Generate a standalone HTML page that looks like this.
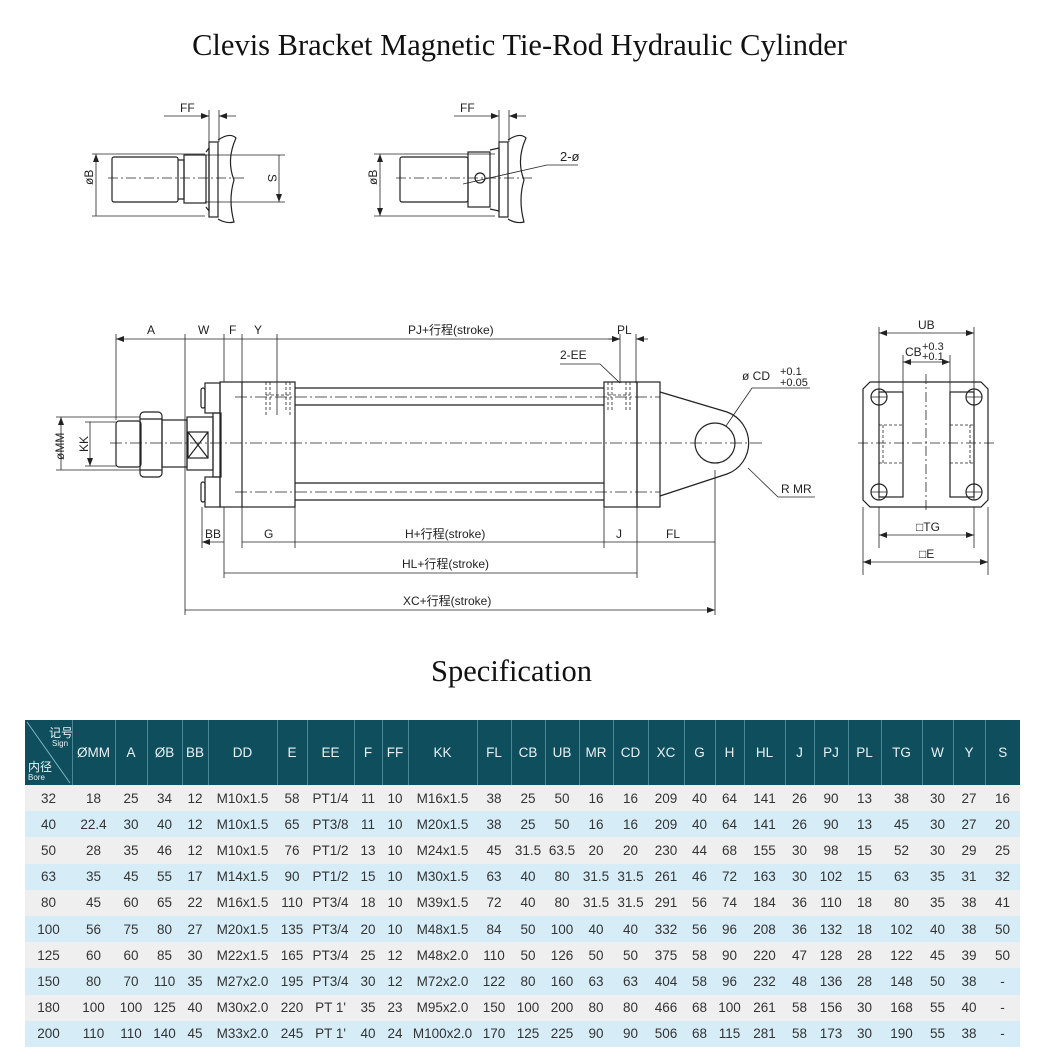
<!DOCTYPE html>
<html><head><meta charset="utf-8">
<style>
html,body{margin:0;padding:0;background:#fff;}
body{width:1039px;height:1060px;position:relative;overflow:hidden;font-family:"Liberation Sans","Noto Sans CJK SC",sans-serif;}
.t{position:absolute;left:0;width:1039px;text-align:center;font-family:"Liberation Serif","Noto Serif CJK SC",serif;color:#111;}
table{position:absolute;left:25px;top:720px;border-collapse:collapse;table-layout:fixed;width:995px;font-size:13.5px;color:#333;}
td,th{padding:0;text-align:center;white-space:nowrap;overflow:hidden;}
th{background:#0f4e5c;color:#e8f2f5;font-weight:normal;height:65px;border-left:1px solid #4a8795;}
td{height:26.2px;}
tr.o td{background:#efefef;}
tr.e td{background:#d6edf8;}
svg text{font-family:"Liberation Sans","Noto Sans CJK SC",sans-serif;fill:#222;}
</style></head><body>
<div class="t" style="top:28px;font-size:30.5px;">Clevis Bracket Magnetic Tie-Rod Hydraulic Cylinder</div>
<div class="t" style="top:654px;font-size:30.5px;left:-8px;">Specification</div>

<svg width="1039" height="700" style="position:absolute;left:0;top:0" xmlns="http://www.w3.org/2000/svg">
<defs>
<marker id="a" markerWidth="8" markerHeight="6" refX="8" refY="3" orient="auto-start-reverse" markerUnits="userSpaceOnUse"><path d="M0,0 L8,3 L0,6 z" fill="#222"/></marker>
</defs>
<g stroke="#222" fill="none" stroke-width="1.2">
<rect x="112" y="157" width="66" height="45" rx="2"/>
<path d="M178 160 L184 160 L184 199 L178 199"/>
<rect x="184" y="155" width="22" height="48"/>
<path d="M206 152 L209 148 L209 211 L206 207"/>
<rect x="209" y="142" width="9" height="75"/>
<path d="M218 140 Q230 132 236 138 Q226 160 234 180 Q228 200 234 222 Q226 224 218 219"/>
<rect x="400" y="157" width="68" height="45" rx="2"/>
<rect x="468" y="152" width="22" height="55"/>
<path d="M490 150 L499 148 L499 211 L490 209"/>
<rect x="499" y="142" width="9" height="75"/>
<path d="M508 140 Q520 132 526 138 Q516 160 524 180 Q518 200 524 222 Q516 224 508 219"/>
<circle cx="480" cy="178" r="5"/>
</g>
<g stroke="#222" fill="none" stroke-width="0.8">
<path d="M108 178 H245 M396 178 H535" stroke-dasharray="10 3 2 3"/>
<path d="M92 154 H205 M92 216 H205 M205 155 H285 M205 202 H285"/>
<path d="M96 154 V216 M279 155 V202" marker-start="url(#a)" marker-end="url(#a)"/>
<path d="M209 110 V145 M219 110 V142"/>
<path d="M164 116 H209" marker-end="url(#a)"/><path d="M236 116 H219" marker-end="url(#a)"/>
<path d="M374 154 H495 M374 216 H495"/>
<path d="M380 154 V216" marker-start="url(#a)" marker-end="url(#a)"/>
<path d="M499 110 V145 M509 110 V142"/>
<path d="M454 116 H499" marker-end="url(#a)"/><path d="M526 116 H509" marker-end="url(#a)"/>
<path d="M463 184 L547 165 H578"/>
</g>
<g font-size="12">
<text x="180" y="112">FF</text><text x="460" y="112">FF</text>
<text x="560" y="161" font-size="13">2-ø</text>
<text transform="translate(93,185) rotate(-90)">øB</text>
<text transform="translate(377,185) rotate(-90)">øB</text>
<text transform="translate(268,174) rotate(90)">S</text>
</g>

<g stroke="#222" fill="none" stroke-width="1.2">
<rect x="116" y="421" width="25" height="46" rx="3"/>
<rect x="140" y="412" width="22" height="65" rx="4"/>
<path d="M140 419 H162 M140 470 H162"/>
<rect x="162" y="420" width="25" height="47"/>
<rect x="187" y="417" width="26" height="53"/>
<rect x="188" y="432" width="20" height="26"/>
<path d="M188 432 L208 458 M208 432 L188 458"/>
<rect x="213" y="413" width="8" height="64"/>
<rect x="205" y="383" width="15" height="30"/><rect x="201" y="388" width="4" height="20" rx="2"/>
<rect x="205" y="477" width="15" height="30"/><rect x="201" y="482" width="4" height="20" rx="2"/>
<rect x="220" y="382" width="75" height="125"/>
<path d="M242 382 V507"/>
<path d="M295 388 H604 M295 405 H604 M295 483 H604 M295 500 H604"/>
<rect x="604" y="382" width="33" height="125"/>
<rect x="637" y="382" width="23" height="125"/>
<path d="M660 392 L727 412 A33 33 0 0 1 727 474 L660 496"/>
<circle cx="715" cy="443" r="20"/>
<path d="M870 382 H981 L988 389 V500 L981 507 H870 L863 500 V389 Z"/>
<rect x="879" y="392" width="24" height="105"/>
<rect x="950" y="392" width="24" height="105"/>
<circle cx="879" cy="397" r="8"/><circle cx="974" cy="397" r="8"/>
<circle cx="879" cy="492" r="8"/><circle cx="974" cy="492" r="8"/>
</g>
<g stroke="#222" fill="none" stroke-width="0.8">
<path d="M871 397 H887 M879 389 V405 M966 397 H982 M974 389 V405 M871 492 H887 M879 484 V500 M966 492 H982 M974 484 V500"/>
<path d="M879 425 H903 M879 463 H903 M950 425 H974 M950 463 H974 M883 425 V463 M970 425 V463" stroke-dasharray="3 2"/>
<path d="M858 443 H995 M926 374 V512" stroke-dasharray="10 3 2 3"/>
<path d="M879 327 V392 M974 327 V392 M903 355 V392 M950 355 V392 M879 507 V548 M974 507 V548 M863 507 V575 M988 507 V575"/>
<path d="M879 333 H974" marker-start="url(#a)" marker-end="url(#a)"/>
<path d="M903 362 H950" marker-start="url(#a)" marker-end="url(#a)"/>
<path d="M879 535 H974" marker-start="url(#a)" marker-end="url(#a)"/>
<path d="M863 562 H988" marker-start="url(#a)" marker-end="url(#a)"/>

<path d="M266 382 V415 M290 382 V415 M270 382 V410 M286 382 V410 M266 395 H290 M608 382 V412 M630 382 V412 M612 382 V410 M626 382 V410 M608 395 H630" stroke-dasharray="3 2"/>
<path d="M110 443 H765 M235 397 H660 M235 492 H660" stroke-dasharray="12 3 2 3"/>
<path d="M116 334 V420 M185 334 V615 M224 334 V382 M242 334 V382 M277 334 V415 M620 334 V383 M636 334 V383"/>
<path d="M202 507 V548 M224 507 V578 M242 507 V548 M295 507 V548 M604 507 V548 M637 507 V578 M715 470 V615"/>
<path d="M56 417 H140 M56 470 H140 M85 422 H116 M85 466 H116"/>
<path d="M116 339 H185 M185 339 H224 M224 339 H242 M242 339 H277 M277 339 H620" marker-start="url(#a)" marker-end="url(#a)"/>
<path d="M608 339 H620" marker-end="url(#a)"/><path d="M648 339 H636" marker-end="url(#a)"/>
<path d="M61 417 V470 M90 422 V466" marker-start="url(#a)" marker-end="url(#a)"/>
<path d="M202 542 H224 M242 542 H295 M295 542 H604 M604 542 H637 M637 542 H715 M224 573 H637 M185 610 H715" marker-start="url(#a)" marker-end="url(#a)"/>
<path d="M560 364 H600 L620 383"/>
<path d="M726 426 L752 388 H810"/>
<path d="M748 468 L778 497 H815"/>
</g>
<g font-size="12">
<text x="147" y="334">A</text><text x="198" y="334">W</text><text x="229" y="334">F</text><text x="254" y="334">Y</text>
<text x="408" y="334">PJ+行程(stroke)</text><text x="617" y="334">PL</text>
<text x="560" y="359">2-EE</text>
<text x="742" y="380">ø CD</text><text x="780" y="375" font-size="11">+0.1</text><text x="780" y="386" font-size="11">+0.05</text>
<text x="781" y="493">R MR</text>
<text x="205" y="538">BB</text><text x="264" y="538">G</text><text x="405" y="538">H+行程(stroke)</text>
<text x="616" y="538">J</text><text x="666" y="538">FL</text>
<text x="402" y="568">HL+行程(stroke)</text><text x="403" y="605">XC+行程(stroke)</text>
<text transform="translate(64,460) rotate(-90)">øMM</text>
<text transform="translate(88,452) rotate(-90)">KK</text>
<text x="918" y="329">UB</text>
<text x="905" y="356">CB</text><text x="922" y="350" font-size="11">+0.3</text><text x="922" y="360" font-size="11">+0.1</text>
<text x="916" y="531">□TG</text><text x="919" y="558">□E</text>
</g>
</svg>

<table>
<colgroup>
<col style="width:47px"><col style="width:43px"><col style="width:32px"><col style="width:35px"><col style="width:26px"><col style="width:69px"><col style="width:30px"><col style="width:47px"><col style="width:28px"><col style="width:26px"><col style="width:69px"><col style="width:34px"><col style="width:34px"><col style="width:34px"><col style="width:34px"><col style="width:35px"><col style="width:36px"><col style="width:31px"><col style="width:29px"><col style="width:41px"><col style="width:29px"><col style="width:34px"><col style="width:33px"><col style="width:41px"><col style="width:31px"><col style="width:32px"><col style="width:35px">
</colgroup>
<tr><th style="border-left:none;position:relative"><svg width="47" height="65" style="position:absolute;left:0;top:0"><line x1="2" y1="2" x2="45" y2="63" stroke="#7fb3c0" stroke-width="1"/><text x="24" y="17" font-size="12" style="fill:#e8f2f5">记号</text><text x="27" y="26" font-size="8" style="fill:#e8f2f5">Sign</text><text x="3" y="51" font-size="12" style="fill:#e8f2f5">内径</text><text x="3" y="60" font-size="8" style="fill:#e8f2f5">Bore</text></svg></th><th>ØMM</th><th>A</th><th>ØB</th><th>BB</th><th>DD</th><th>E</th><th>EE</th><th>F</th><th>FF</th><th>KK</th><th>FL</th><th>CB</th><th>UB</th><th>MR</th><th>CD</th><th>XC</th><th>G</th><th>H</th><th>HL</th><th>J</th><th>PJ</th><th>PL</th><th>TG</th><th>W</th><th>Y</th><th>S</th></tr>
<tr class="o"><td>32</td><td>18</td><td>25</td><td>34</td><td>12</td><td>M10x1.5</td><td>58</td><td>PT1/4</td><td>11</td><td>10</td><td>M16x1.5</td><td>38</td><td>25</td><td>50</td><td>16</td><td>16</td><td>209</td><td>40</td><td>64</td><td>141</td><td>26</td><td>90</td><td>13</td><td>38</td><td>30</td><td>27</td><td>16</td></tr>
<tr class="e"><td>40</td><td>22.4</td><td>30</td><td>40</td><td>12</td><td>M10x1.5</td><td>65</td><td>PT3/8</td><td>11</td><td>10</td><td>M20x1.5</td><td>38</td><td>25</td><td>50</td><td>16</td><td>16</td><td>209</td><td>40</td><td>64</td><td>141</td><td>26</td><td>90</td><td>13</td><td>45</td><td>30</td><td>27</td><td>20</td></tr>
<tr class="o"><td>50</td><td>28</td><td>35</td><td>46</td><td>12</td><td>M10x1.5</td><td>76</td><td>PT1/2</td><td>13</td><td>10</td><td>M24x1.5</td><td>45</td><td>31.5</td><td>63.5</td><td>20</td><td>20</td><td>230</td><td>44</td><td>68</td><td>155</td><td>30</td><td>98</td><td>15</td><td>52</td><td>30</td><td>29</td><td>25</td></tr>
<tr class="e"><td>63</td><td>35</td><td>45</td><td>55</td><td>17</td><td>M14x1.5</td><td>90</td><td>PT1/2</td><td>15</td><td>10</td><td>M30x1.5</td><td>63</td><td>40</td><td>80</td><td>31.5</td><td>31.5</td><td>261</td><td>46</td><td>72</td><td>163</td><td>30</td><td>102</td><td>15</td><td>63</td><td>35</td><td>31</td><td>32</td></tr>
<tr class="o"><td>80</td><td>45</td><td>60</td><td>65</td><td>22</td><td>M16x1.5</td><td>110</td><td>PT3/4</td><td>18</td><td>10</td><td>M39x1.5</td><td>72</td><td>40</td><td>80</td><td>31.5</td><td>31.5</td><td>291</td><td>56</td><td>74</td><td>184</td><td>36</td><td>110</td><td>18</td><td>80</td><td>35</td><td>38</td><td>41</td></tr>
<tr class="e"><td>100</td><td>56</td><td>75</td><td>80</td><td>27</td><td>M20x1.5</td><td>135</td><td>PT3/4</td><td>20</td><td>10</td><td>M48x1.5</td><td>84</td><td>50</td><td>100</td><td>40</td><td>40</td><td>332</td><td>56</td><td>96</td><td>208</td><td>36</td><td>132</td><td>18</td><td>102</td><td>40</td><td>38</td><td>50</td></tr>
<tr class="o"><td>125</td><td>60</td><td>60</td><td>85</td><td>30</td><td>M22x1.5</td><td>165</td><td>PT3/4</td><td>25</td><td>12</td><td>M48x2.0</td><td>110</td><td>50</td><td>126</td><td>50</td><td>50</td><td>375</td><td>58</td><td>90</td><td>220</td><td>47</td><td>128</td><td>28</td><td>122</td><td>45</td><td>39</td><td>50</td></tr>
<tr class="e"><td>150</td><td>80</td><td>70</td><td>110</td><td>35</td><td>M27x2.0</td><td>195</td><td>PT3/4</td><td>30</td><td>12</td><td>M72x2.0</td><td>122</td><td>80</td><td>160</td><td>63</td><td>63</td><td>404</td><td>58</td><td>96</td><td>232</td><td>48</td><td>136</td><td>28</td><td>148</td><td>50</td><td>38</td><td>-</td></tr>
<tr class="o"><td>180</td><td>100</td><td>100</td><td>125</td><td>40</td><td>M30x2.0</td><td>220</td><td>PT 1'</td><td>35</td><td>23</td><td>M95x2.0</td><td>150</td><td>100</td><td>200</td><td>80</td><td>80</td><td>466</td><td>68</td><td>100</td><td>261</td><td>58</td><td>156</td><td>30</td><td>168</td><td>55</td><td>40</td><td>-</td></tr>
<tr class="e"><td>200</td><td>110</td><td>110</td><td>140</td><td>45</td><td>M33x2.0</td><td>245</td><td>PT 1'</td><td>40</td><td>24</td><td>M100x2.0</td><td>170</td><td>125</td><td>225</td><td>90</td><td>90</td><td>506</td><td>68</td><td>115</td><td>281</td><td>58</td><td>173</td><td>30</td><td>190</td><td>55</td><td>38</td><td>-</td></tr>
</table>
</body></html>
